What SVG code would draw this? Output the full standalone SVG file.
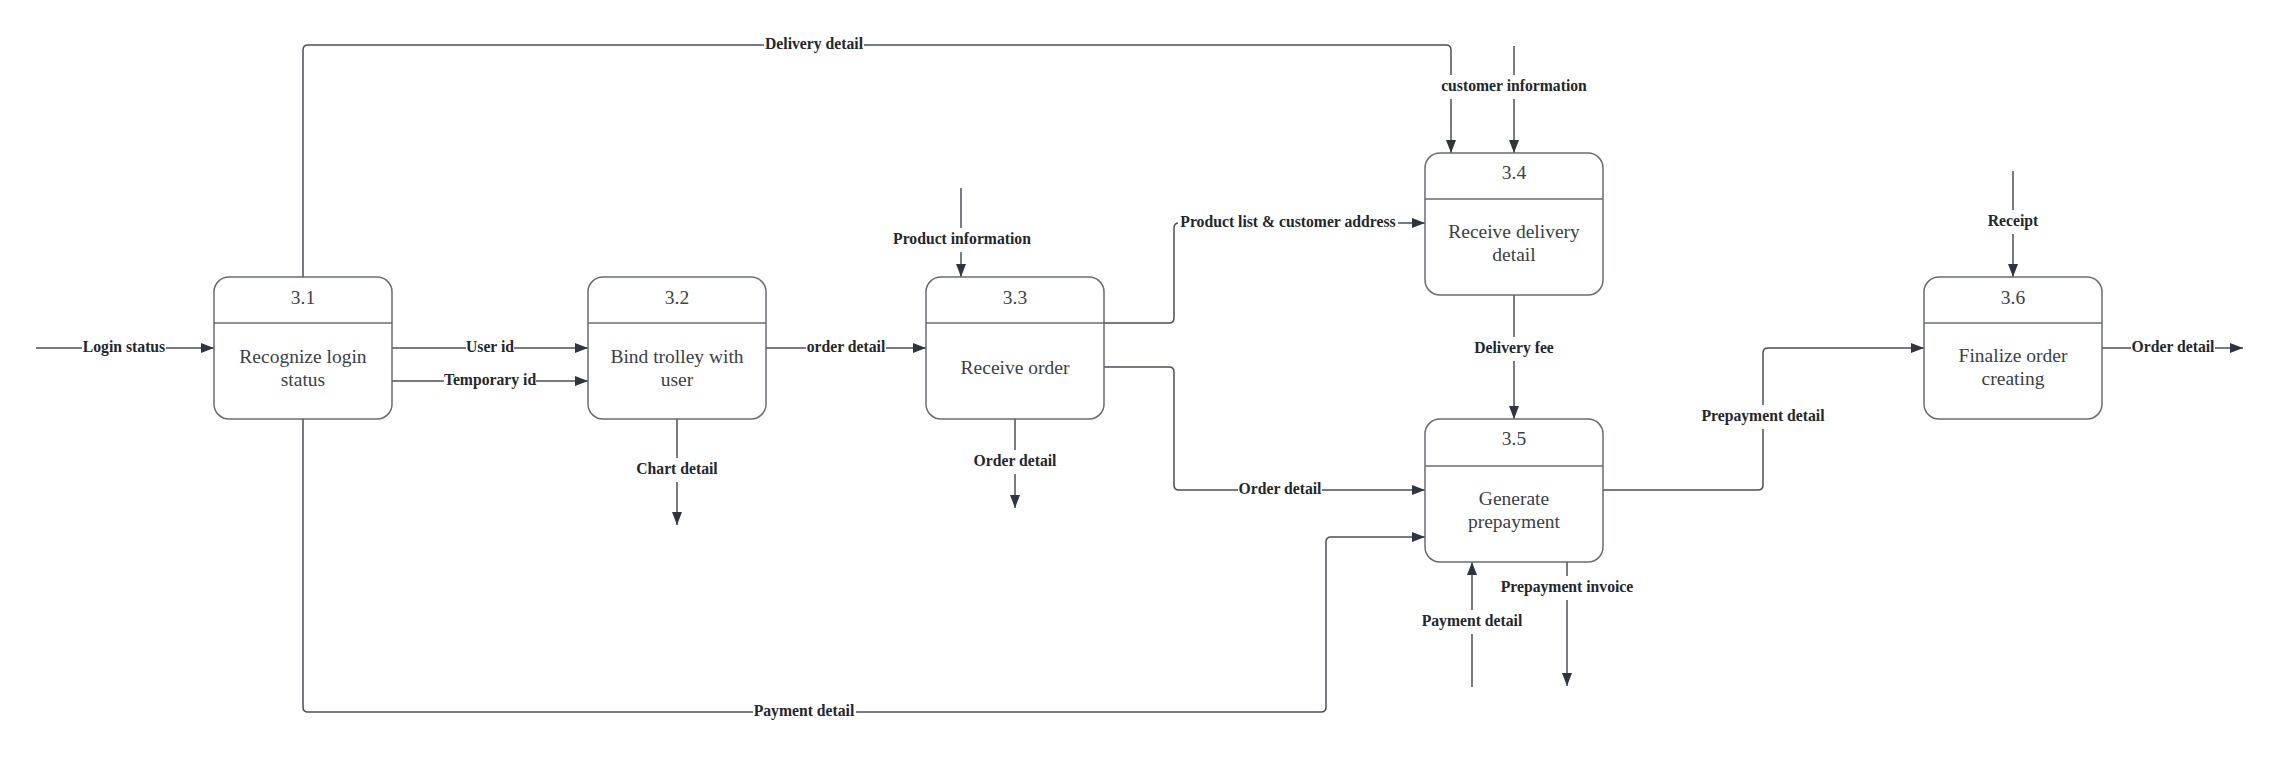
<svg xmlns="http://www.w3.org/2000/svg" width="2287" height="762" viewBox="0 0 2287 762">
<defs>
<style>
.box{fill:#fff;stroke:#676c75;stroke-width:1.5}
.div{stroke:#676c75;stroke-width:1.5}
.t{font-family:"Liberation Serif","Times New Roman",serif;font-size:19.5px;fill:#3b4049;text-anchor:middle}
.c{fill:none;stroke:#4b5058;stroke-width:1.5}
.lb{fill:#fff}
.l{font-family:"Liberation Serif","Times New Roman",serif;font-size:15.7px;font-weight:bold;fill:#24272c;text-anchor:middle}
</style>
<marker id="a" markerUnits="userSpaceOnUse" markerWidth="14" markerHeight="10" refX="13" refY="5" orient="auto">
<path d="M0,0 L13,5 L0,10 z" fill="#2f3540"/>
</marker>
</defs>
<rect width="2287" height="762" fill="#fff"/>
<g id="connectors">
<path class="c" d="M36,348 H214" marker-end="url(#a)"/>
<path class="c" d="M392,348 H588" marker-end="url(#a)"/>
<path class="c" d="M392,381 H588" marker-end="url(#a)"/>
<path class="c" d="M766,348 H926" marker-end="url(#a)"/>
<path class="c" d="M677,419 V525" marker-end="url(#a)"/>
<path class="c" d="M961,188 V277" marker-end="url(#a)"/>
<path class="c" d="M1015,419 V508" marker-end="url(#a)"/>
<path class="c" d="M1104,323 H1169 Q1174,323 1174,318 V228 Q1174,223 1179,223 H1425" marker-end="url(#a)"/>
<path class="c" d="M1104,367 H1169 Q1174,367 1174,372 V485 Q1174,490 1179,490 H1425" marker-end="url(#a)"/>
<path class="c" d="M303,277 V50 Q303,45 308,45 H1446 Q1451,45 1451,50 V153" marker-end="url(#a)"/>
<path class="c" d="M1514,46 V153" marker-end="url(#a)"/>
<path class="c" d="M1514,295 V419" marker-end="url(#a)"/>
<path class="c" d="M303,419 V707 Q303,712 308,712 H1321 Q1326,712 1326,707 V542 Q1326,537 1331,537 H1425" marker-end="url(#a)"/>
<path class="c" d="M1472,687 V562" marker-end="url(#a)"/>
<path class="c" d="M1567,562 V686" marker-end="url(#a)"/>
<path class="c" d="M1603,490 H1758 Q1763,490 1763,485 V353 Q1763,348 1768,348 H1924" marker-end="url(#a)"/>
<path class="c" d="M2013,171 V277" marker-end="url(#a)"/>
<path class="c" d="M2102,348 H2243" marker-end="url(#a)"/>
<g id="labels">
<rect class="lb" x="82" y="338" width="84" height="20"/><text class="l" x="124" y="352">Login status</text>
<rect class="lb" x="466" y="338" width="48" height="20"/><text class="l" x="490" y="352">User id</text>
<rect class="lb" x="444" y="371" width="92" height="20"/><text class="l" x="490" y="385">Temporary id</text>
<rect class="lb" x="806" y="338" width="80" height="20"/><text class="l" x="846" y="352">order detail</text>
<rect class="lb" x="635" y="458" width="84" height="24"/><text class="l" x="677" y="474">Chart detail</text>
<rect class="lb" x="892" y="228" width="140" height="24"/><text class="l" x="962" y="244">Product information</text>
<rect class="lb" x="973" y="450" width="84" height="24"/><text class="l" x="1015" y="466">Order detail</text>
<rect class="lb" x="1178" y="213" width="220" height="20"/><text class="l" x="1288" y="227">Product list &amp; customer address</text>
<rect class="lb" x="1238" y="480" width="84" height="20"/><text class="l" x="1280" y="494">Order detail</text>
<rect class="lb" x="764" y="35" width="100" height="20"/><text class="l" x="814" y="49">Delivery detail</text>
<rect class="lb" x="1439" y="75" width="150" height="24"/><text class="l" x="1514" y="91">customer information</text>
<rect class="lb" x="1472" y="337" width="84" height="24"/><text class="l" x="1514" y="353">Delivery fee</text>
<rect class="lb" x="753" y="702" width="103" height="20"/><text class="l" x="804" y="716">Payment detail</text>
<rect class="lb" x="1420" y="610" width="104" height="24"/><text class="l" x="1472" y="626">Payment detail</text>
<rect class="lb" x="1500" y="576" width="134" height="24"/><text class="l" x="1567" y="592">Prepayment invoice</text>
<rect class="lb" x="1700" y="405" width="126" height="24"/><text class="l" x="1763" y="421">Prepayment detail</text>
<rect class="lb" x="1986" y="210" width="54" height="24"/><text class="l" x="2013" y="226">Receipt</text>
<rect class="lb" x="2131" y="338" width="84" height="20"/><text class="l" x="2173" y="352">Order detail</text>
</g>
</g>
<g id="n31">
<rect class="box" x="214" y="277" width="178" height="142" rx="15"/>
<line class="div" x1="214" y1="323" x2="392" y2="323"/>
<text class="t" x="303" y="304">3.1</text>
<text class="t" x="303" y="363">Recognize login</text>
<text class="t" x="303" y="386">status</text>
</g>
<g id="n32">
<rect class="box" x="588" y="277" width="178" height="142" rx="15"/>
<line class="div" x1="588" y1="323" x2="766" y2="323"/>
<text class="t" x="677" y="304">3.2</text>
<text class="t" x="677" y="363">Bind trolley with</text>
<text class="t" x="677" y="386">user</text>
</g>
<g id="n33">
<rect class="box" x="926" y="277" width="178" height="142" rx="15"/>
<line class="div" x1="926" y1="323" x2="1104" y2="323"/>
<text class="t" x="1015" y="304">3.3</text>
<text class="t" x="1015" y="373.5">Receive order</text>
</g>
<g id="n34">
<rect class="box" x="1425" y="153" width="178" height="142" rx="15"/>
<line class="div" x1="1425" y1="199" x2="1603" y2="199"/>
<text class="t" x="1514" y="178.5">3.4</text>
<text class="t" x="1514" y="237.5">Receive delivery</text>
<text class="t" x="1514" y="260.5">detail</text>
</g>
<g id="n35">
<rect class="box" x="1425" y="419" width="178" height="143" rx="15"/>
<line class="div" x1="1425" y1="466" x2="1603" y2="466"/>
<text class="t" x="1514" y="445">3.5</text>
<text class="t" x="1514" y="504.5">Generate</text>
<text class="t" x="1514" y="527.5">prepayment</text>
</g>
<g id="n36">
<rect class="box" x="1924" y="277" width="178" height="142" rx="15"/>
<line class="div" x1="1924" y1="323" x2="2102" y2="323"/>
<text class="t" x="2013" y="304">3.6</text>
<text class="t" x="2013" y="362">Finalize order</text>
<text class="t" x="2013" y="385">creating</text>
</g>
</svg>
